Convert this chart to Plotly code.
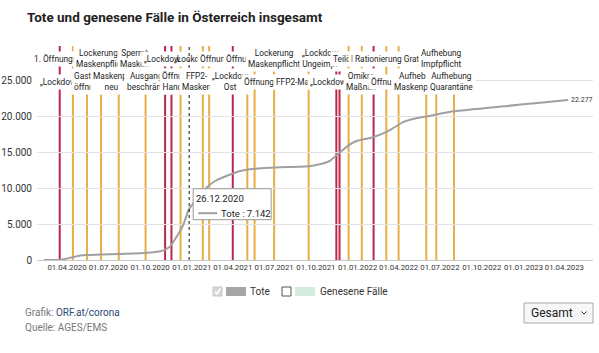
import plotly.graph_objects as go
import pandas as pd

TITLE = "Tote und genesene Fälle in Österreich insgesamt"

# ---- data -----------------------------------------------------------
dates = ["2020-02-10", "2020-03-15", "2020-04-08", "2020-04-30", "2020-05-15",
         "2020-06-13", "2020-07-27", "2020-09-24", "2020-10-23", "2020-11-03",
         "2020-11-14", "2020-11-29", "2020-12-13", "2020-12-26", "2021-01-10",
         "2021-01-30", "2021-02-21", "2021-03-22", "2021-04-17", "2021-05-20",
         "2021-06-22", "2021-08-05", "2021-09-20", "2021-10-14", "2021-11-01",
         "2021-11-23", "2021-12-15", "2021-12-31", "2022-02-04", "2022-03-13",
         "2022-04-11", "2022-05-07", "2022-06-03", "2022-07-30", "2022-11-26",
         "2023-02-07", "2023-04-09"]
tote = [0, 5, 300, 620, 700,
        750, 830, 1000, 1220, 1450,
        1900, 3300, 4900, 7142, 8350,
        9900, 11000, 11800, 12400, 12700,
        12850, 12950, 13100, 13400, 13800,
        15000, 16100, 16600, 17100, 18100,
        19200, 19700, 20000, 20700, 21450,
        21900, 22277]

x_ticks = ["2020-04-01", "2020-07-01", "2020-10-01", "2021-01-01", "2021-04-01",
           "2021-07-01", "2021-10-01", "2022-01-01", "2022-04-01", "2022-07-01",
           "2022-10-01", "2023-01-01", "2023-04-01"]
y_ticks = [0, 5000, 10000, 15000, 20000, 25000]

event_dates = ["2020-03-16", "2020-04-14", "2020-05-15", "2020-06-15", "2020-07-24",
               "2020-09-21", "2020-11-03", "2020-11-17", "2020-12-07", "2020-12-26",
               "2021-01-25", "2021-02-08", "2021-04-01", "2021-05-03", "2021-05-19",
               "2021-07-01", "2021-09-15", "2021-11-15", "2021-11-22", "2021-12-12",
               "2022-01-10", "2022-02-05", "2022-03-05", "2022-04-01", "2022-06-01",
               "2022-06-23", "2022-08-01"]
event_kinds = ["L", "O", "O", "O", "O",
               "O", "L", "L", "O", "-",
               "O", "O", "L", "O", "O",
               "O", "O", "L", "L", "O",
               "O", "L", "O", "O", "O",
               "O", "O"]
event_labels = ["„Lockdow", "1. Öffnungss", "Gastrc<br>öffnun", "Lockerung<br>Maskenpflic", "Maskenpf<br>neu",
                "Sperrst<br>Masken", "Ausgangs<br>beschränku", "„Lockdow", "Öffnu<br>Hand", "„Lockdo",
                "FFP2-<br>Masken", "Öffnun", "„Lockdow<br>Ost", "Öffnun", "Öffnung",
                "Lockerung<br>Maskenpflicht", "FFP2-Mask", "„Lockdow<br>Ungeimpf", "„Lockdow", "Teilöf",
                "Omikro<br>Maßnah", "Im", "Öffnung", "Rationierung Gratis", "Aufheb<br>Maskenpf",
                "Aufhebung<br>Impfpflicht", "Aufhebung<br>Quarantäne"]

hover_date = "2020-12-26"

# ---- style ----------------------------------------------------------
label_slot = ["b", "t", "b", "t", "b",
              "t", "b", "t", "b", "t",
              "b", "t", "b", "t", "b",
              "t", "b", "t", "b", "t",
              "b", "t", "b", "t", "b",
              "t", "b"]
label_dx = [-1, -15, 0, -2, -7,
            -11, -17, -9, -8, 0,
            -6, 4, -2, -8, 4,
            0, -12, -16, -11, -5,
            0, -18, 0, -8, -14,
            5, -3]

FONT = "Roboto, sans-serif"
RED = "#b8284a"
ORANGE = "#e9ad45"
GRAY = "#a0a0a0"
Y_MAX = 29800

W, H = 599, 353
PL, PR, PT, PB = 37, 593, 46, 260


def px(xp):
    return xp / W


def py(yp):
    return 1 - yp / H


df = pd.DataFrame({"date": pd.to_datetime(dates), "tote": tote})
hover_val = int(df.loc[df["date"] == pd.Timestamp(hover_date), "tote"].iloc[0])

fig = go.Figure()
fig.add_trace(go.Scatter(x=df["date"], y=df["tote"], mode="lines",
                         line=dict(color=GRAY, width=2, shape="spline", smoothing=0.5),
                         hoverinfo="skip", showlegend=False))

shapes = []
annotations = []

for d, k in zip(event_dates, event_kinds):
    if k == "-":
        continue
    shapes.append(dict(type="line", xref="x", yref="y", x0=d, x1=d, y0=0, y1=Y_MAX,
                       line=dict(color=RED if k == "L" else ORANGE, width=2), layer="below"))

slot_y = {"t": py(59), "b": py(81.5)}
LFONT = dict(family=FONT, size=8.3, color="#222")

for d, k, lab, s, dx in zip(event_dates, event_kinds, event_labels, label_slot, label_dx):
    if k == "-":
        shapes.append(dict(type="rect", xref="x", yref="paper", xsizemode="pixel", ysizemode="pixel",
                           xanchor=d, yanchor=slot_y[s], x0=dx - 13, x1=dx + 13, y0=-7, y1=7,
                           fillcolor="white", line=dict(width=0), layer="above"))
        annotations.append(dict(x=d, y=slot_y[s], xref="x", yref="paper", text=lab, showarrow=False,
                                xshift=dx, font=LFONT, xanchor="center", yanchor="middle"))
    else:
        annotations.append(dict(x=d, y=slot_y[s], xref="x", yref="paper", text=lab, showarrow=False,
                                xshift=dx, font=LFONT, bgcolor="white", borderpad=2,
                                xanchor="center", yanchor="middle"))

shapes.append(dict(type="line", xref="x", yref="y", x0=hover_date, x1=hover_date, y0=0, y1=Y_MAX,
                   line=dict(color="#111", width=1, dash="dot"), layer="above"))

shapes.append(dict(type="rect", xref="x", yref="y", xsizemode="pixel", ysizemode="pixel",
                   xanchor=hover_date, yanchor=hover_val, x0=4, x1=82, y0=-11, y1=20,
                   fillcolor="white", line=dict(color="#999", width=1), layer="above"))
shapes.append(dict(type="line", xref="x", yref="y", xsizemode="pixel", ysizemode="pixel",
                   xanchor=hover_date, yanchor=hover_val, x0=9, x1=28, y0=-4.5, y1=-4.5,
                   line=dict(color=GRAY, width=2), layer="above"))
annotations.append(dict(x=hover_date, y=hover_val, xref="x", yref="y", showarrow=False,
                        text=pd.Timestamp(hover_date).strftime("%d.%m.%Y"),
                        xanchor="left", yanchor="middle", xshift=5, yshift=10,
                        font=dict(family=FONT, size=9.5, color="#222")))
annotations.append(dict(x=hover_date, y=hover_val, xref="x", yref="y", showarrow=False,
                        text="Tote : " + f"{hover_val:,}".replace(",", "."),
                        xanchor="left", yanchor="middle", xshift=30, yshift=-4.5,
                        font=dict(family=FONT, size=9.5, color="#222")))

annotations.append(dict(x=df["date"].iloc[-1], y=df["tote"].iloc[-1], xref="x", yref="y",
                        showarrow=False, text=f"{df['tote'].iloc[-1]:,}".replace(",", "."),
                        xanchor="left", yanchor="middle", xshift=1,
                        font=dict(family=FONT, size=7, color="#333")))

annotations.append(dict(x=px(25), y=py(17), xref="paper", yref="paper", showarrow=False,
                        text="<b>" + TITLE + "</b>", xanchor="left", yanchor="middle",
                        font=dict(family=FONT, size=13.5, color="#222")))

shapes.append(dict(type="rect", xref="paper", yref="paper", x0=px(213), x1=px(222), y0=py(296), y1=py(287),
                   fillcolor="#d8d8d8", line=dict(color="#c8c8c8", width=1)))
shapes.append(dict(type="path", xref="paper", yref="paper",
                   path=f"M {px(215)},{py(291.5)} L {px(217)},{py(294)} L {px(220.5)},{py(288.5)}",
                   line=dict(color="white", width=1.5)))
shapes.append(dict(type="rect", xref="paper", yref="paper", x0=px(226), x1=px(246), y0=py(296), y1=py(287),
                   fillcolor="#a6a6a6", line=dict(width=0)))
annotations.append(dict(x=px(248), y=py(291.5), xref="paper", yref="paper", showarrow=False,
                        text="Tote", xanchor="left", yanchor="middle",
                        font=dict(family=FONT, size=10, color="#333")))
shapes.append(dict(type="rect", xref="paper", yref="paper", x0=px(282), x1=px(291), y0=py(296), y1=py(287),
                   fillcolor="white", line=dict(color="#555", width=1)))
shapes.append(dict(type="rect", xref="paper", yref="paper", x0=px(295), x1=px(315), y0=py(296), y1=py(287),
                   fillcolor="#d3ecdf", line=dict(width=0)))
annotations.append(dict(x=px(318), y=py(291.5), xref="paper", yref="paper", showarrow=False,
                        text="Genesene Fälle", xanchor="left", yanchor="middle",
                        font=dict(family=FONT, size=10, color="#333")))

annotations.append(dict(x=px(23), y=py(312), xref="paper", yref="paper", showarrow=False,
                        text="<span style='color:#777'>Grafik: </span><span style='color:#2b4a75'>ORF.at/corona</span>",
                        xanchor="left", yanchor="middle", font=dict(family=FONT, size=10, color="#777")))
annotations.append(dict(x=px(23), y=py(327), xref="paper", yref="paper", showarrow=False,
                        text="Quelle: AGES/EMS", xanchor="left", yanchor="middle",
                        font=dict(family=FONT, size=10, color="#777")))

shapes.append(dict(type="rect", xref="paper", yref="paper", x0=px(524), x1=px(593), y0=py(323), y1=py(303),
                   fillcolor="#f7f7f7", line=dict(color="#a8a8a8", width=1)))
annotations.append(dict(x=px(529), y=py(313), xref="paper", yref="paper", showarrow=False,
                        text="Gesamt", xanchor="left", yanchor="middle",
                        font=dict(family=FONT, size=12, color="#222")))
shapes.append(dict(type="path", xref="paper", yref="paper",
                   path=f"M {px(581.5)},{py(311.5)} L {px(584)},{py(314)} L {px(586.5)},{py(311.5)}",
                   line=dict(color="#333", width=1)))

fig.update_layout(
    width=W, height=H,
    margin=dict(l=0, r=0, t=0, b=0, pad=0, autoexpand=False),
    paper_bgcolor="white", plot_bgcolor="white",
    separators=",.",
    showlegend=False,
    shapes=shapes, annotations=annotations,
    font=dict(family=FONT, size=10, color="#333"),
    xaxis=dict(type="date", domain=[PL / W, PR / W], range=["2020-01-26", "2023-06-03"],
               tickvals=x_ticks, tickformat="%d.%m.%Y", tickangle=0, showgrid=False,
               showline=True, linecolor="#c8c8c8", linewidth=1, ticks="", automargin=False,
               tickfont=dict(family=FONT, size=7.8, color="#333"), zeroline=False, fixedrange=True),
    yaxis=dict(domain=[1 - PB / H, 1 - PT / H], range=[0, Y_MAX], tickvals=y_ticks, tickformat=",d",
               showgrid=True, gridcolor="#e3e3e3", gridwidth=1, zeroline=False, showline=False,
               ticks="", ticklabelstandoff=4, automargin=False,
               tickfont=dict(family=FONT, size=10, color="#333"), fixedrange=True),
)

fig.write_html("out.html")
